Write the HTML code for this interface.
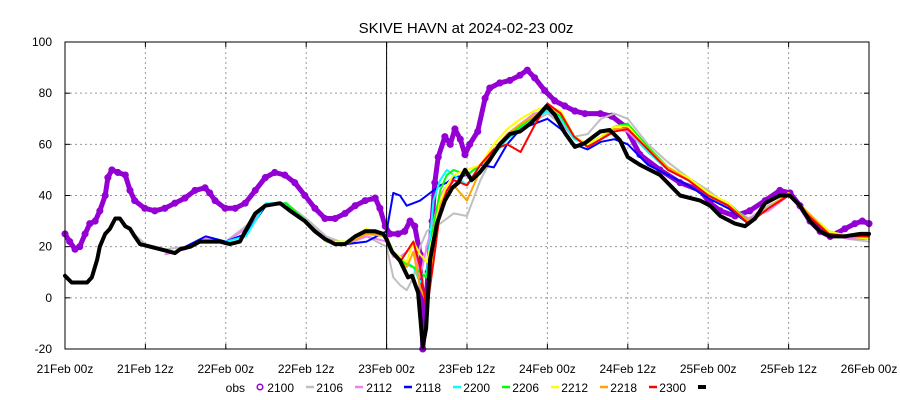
<!DOCTYPE html>
<html><head><meta charset="utf-8">
<style>
body{margin:0;background:#fff;}
svg{display:block;font-family:"Liberation Sans",sans-serif;}
</style></head>
<body>
<svg id="chart" width="900" height="400" viewBox="0 0 900 400" xmlns="http://www.w3.org/2000/svg">
<rect width="900" height="400" fill="#fff"/>
<text x="466" y="33" font-size="15" text-anchor="middle">SKIVE HAVN at 2024-02-23 00z</text>
<g id="grid"></g><g id="series"></g><g id="axes"></g><g id="legend"></g>
</svg>
<script>
const xTickLabels=["21Feb 00z","21Feb 12z","22Feb 00z","22Feb 12z","23Feb 00z","23Feb 12z","24Feb 00z","24Feb 12z","25Feb 00z","25Feb 12z","26Feb 00z"];
const yTicks=[-20,0,20,40,60,80,100];
const grid=[48,49,50,51,52,53,54,55,56,57,58,60,62,64,66,68,70,72,74,76,78,80,82,84,87,90,93,96,99,102,105,108,111,114,117,120];
const greyPreH=[9,12,15,18,21,24,27,30,33,36,39,42,45];
const greyPre=[28,21,19,20,23,22,28,36,37,31,24,21,24];
const greyPost=[20,8,5,3,8,20,26,28,29,31,33,32,46,56,62,66,69,72,68,63,64,70,72,70,60,53,47,42,36,31,36,40,32,25,23,22];
const violetPreH=[15,18,21,24,27,30,33,36,39,42,45];
const violetPre=[17,19,23,22,27,36,37,30,23,21,24];
const violetPost=[22,16,16,18,22,8,20,30,40,44,47,48,52,58,64,68,72,73,69,62,60,63,66,65,57,50,46,40,36,31,34,40,33,25,23,23];
const bluePreH=[18,21,24,27,30,33,36,39,42,45];
const bluePre=[20,24,22,25,36,37,29,22,21,22];
const bluePost=[26,41,40,36,37,38,40,42,44,45,47,48,52,51,60,66,68,70,66,60,58,61,62,60,52,48,44,39,35,29,35,41,32,25,24,23];
const cyanPreH=[24,27,30,33,36,39,42,45];
const cyanPre=[22,24,37,37,30,22,21,26];
const cyanPost=[24,18,16,14,12,6,10,38,46,50,48,44,50,56,62,66,70,73,70,62,60,63,66,66,57,50,46,40,37,30,35,41,33,26,24,24];
const greenPreH=[30,33,36,39,42,45];
const greenPre=[36,37,30,22,22,26];
const greenPost=[24,18,15,13,12,10,8,28,42,48,50,48,52,58,63,67,71,74,71,63,60,63,67,68,59,51,47,41,37,30,35,41,33,26,24,24];
const yellowPreH=[36,39,42,45];
const yellowPre=[30,22,22,27];
const yellowPost=[24,18,16,14,22,17,14,25,38,44,48,50,52,60,66,70,73,75,73,63,60,63,67,67,58,51,47,41,37,29,35,41,33,26,24,23];
const orangePreH=[42,45];
const orangePre=[21,25];
const orangePost=[24,17,14,12,18,4,-2,20,36,42,44,38,50,58,64,68,71,75,72,63,59,62,66,66,58,51,46,40,36,30,35,41,33,25,24,24];
const redPost=[24,17,14,18,22,12,-5,14,34,42,46,44,52,58,60,57,67,76,72,63,59,62,65,66,58,50,46,40,36,29,35,40,32,25,24,24];
const blackH=[0,1,3.3,4,4.8,5.2,6,6.7,7.5,8.2,9,9.7,10.4,11.2,12.7,14.2,15.7,16.4,17.2,18.7,20.1,23.1,24.6,26.1,26.9,28.4,29.9,32.1,33.6,35.8,37.3,38.8,40.3,41.8,43.3,44.8,46.3,47.5,47.9,48.8,50,51.2,51.8,52.7,53,53.4,53.9,54.5,55.5,56.7,57.8,58.7,59.7,60.7,61.9,63.4,64.9,66.4,67.9,69.4,70.9,71.9,73.1,74.6,76.1,77.6,79.9,81.3,82.8,84,85.8,88.8,91.8,94.8,96.3,97.8,100,101.5,103,104.5,106.7,108.2,109.7,111.2,112.7,114.2,116.4,118.7,120];
const blackV=[8.6,6,6,8,15,20,25,27,31,31,28,27,24,21,20,19,18,17.5,19,20,22,22,21,22,26,33,36,37,34,30,26,23,21,21,24,26,26,25,23.4,18,14.5,8,8.6,2,-7,-19,-12,15,29,38,43,45,50,46,49,54,60,64,65,68,72,75,71.5,64.5,59,60.5,65,65.6,61.7,55,52,48,40,38,36,32,29,28,31,37,40,40,36,30,26,24,24,25,25];
const obsH=[0,0.7,1.5,2.2,3,3.7,4.5,5.2,6,6.4,7,7.9,9,9.7,10.4,11.9,13.4,14.9,16.4,17.9,19.4,20.9,21.6,22.4,23.9,25.4,26.9,28.4,29.9,31.3,32.8,34.3,35.8,37.3,38.8,40.3,41.8,43.3,44.8,46.3,47,47.8,48.5,49.7,50.7,51.5,52.2,53,53.4,54.2,54.8,55.2,55.7,56.7,57.5,58.2,59,59.7,60.4,61.6,62.7,63.4,64.9,66.4,67.9,69,70.1,71.6,73.1,74.6,76.1,77.6,79.9,81.6,83.6,85.8,88.8,91.8,94.8,96.3,97.8,100,102.2,104.5,106.7,108.2,109.7,111.2,112.7,114.2,116.4,117.9,119,120];
const obsV=[25,22,19,20,25,29,30,34,40,47,50,49,48,42,38,35,34,35,37,39,42,43,41,38,35,35,37,42,47,49,48,45,40,35,31,31,33,36,38,39,35,28,25,25,26,30,28,17,-20,10,30,45,55,63,60,66,62,56,60,65,78,82,84,85,87,89,86,81,77,75,73,72,72,71,67,56,50,45,42,37,34,32,34,38,42,41,36,30,26,24,27,29,30,29];
const legendLabels=["obs","2100","2106","2112","2118","2200","2206","2212","2218","2300"];

const X0=65,X1=869,Y0=349,Y1=42;
const xs=h=>X0+(h/120)*(X1-X0);
const ys=v=>Y0-((v+20)/120)*(Y0-Y1);
const NS="http://www.w3.org/2000/svg";
function mk(tag,attrs,parent){const e=document.createElementNS(NS,tag);for(const k in attrs)e.setAttribute(k,attrs[k]);parent.appendChild(e);return e;}
const G=document.getElementById('grid'),S=document.getElementById('series'),A=document.getElementById('axes'),L=document.getElementById('legend');
xTickLabels.forEach((t,i)=>{const x=xs(i*12);
 if(i>0&&i<10){const l=mk('line',{x1:x,x2:x,y1:Y1,y2:Y0,stroke:'#999','stroke-dasharray':'2,3'},G);
 
 }
 const tx=mk('text',{x:x,y:373,'font-size':12,'text-anchor':'middle'},A);tx.textContent=t;
 
 
 mk('line',{x1:x,x2:x,y1:Y0,y2:Y0-5,stroke:'#000'},A);mk('line',{x1:x,x2:x,y1:Y1,y2:Y1+5,stroke:'#000'},A);
});
yTicks.forEach(v=>{const y=ys(v);
 if(v>-20&&v<100){const l=mk('line',{x1:X0,x2:X1,y1:y,y2:y,stroke:'#999','stroke-dasharray':'2,3'},G);
 
 }
 const tx=mk('text',{x:52,y:y+4,'font-size':12,'text-anchor':'end'},A);tx.textContent=v;
 
 
 mk('line',{x1:X0,x2:X0+5,y1:y,y2:y,stroke:'#000'},A);mk('line',{x1:X1,x2:X1-5,y1:y,y2:y,stroke:'#000'},A);
});
const frame=mk('rect',{x:X0,y:Y1,width:X1-X0,height:Y0-Y1,fill:'none',stroke:'#000'},A);


const vl=mk('line',{x1:xs(48),x2:xs(48),y1:Y1,y2:Y0,stroke:'#000'},A);



function line(hs,vs,color,w,name){
 const d=hs.map((h,i)=>(i?'L':'M')+xs(h).toFixed(1)+','+ys(vs[i]).toFixed(1)).join('');
 const p=mk('path',{d:d,fill:'none',stroke:color,'stroke-width':w,'stroke-linejoin':'round','stroke-linecap':'round'},S);
 
 
}
// obs band + markers
line(obsH,obsV,'#9400d3',5,'obs-band');
obsH.forEach((h,i)=>{const c=mk('circle',{cx:xs(h),cy:ys(obsV[i]),r:2.8,fill:'none',stroke:'#9400d3','stroke-width':1.5},S);
 
 });
line(greyPreH.concat(grid),greyPre.concat(greyPost),'#c0c0c0',2,'series-2100');
line(violetPreH.concat(grid),violetPre.concat(violetPost),'#ee82ee',2,'series-2106');
line(bluePreH.concat(grid),bluePre.concat(bluePost),'#0000ff',2,'series-2112');
line(cyanPreH.concat(grid),cyanPre.concat(cyanPost),'#00ffff',2,'series-2118');
line(greenPreH.concat(grid),greenPre.concat(greenPost),'#00ff00',2,'series-2200');
line(yellowPreH.concat(grid),yellowPre.concat(yellowPost),'#ffff00',2,'series-2206');
line(orangePreH.concat(grid),orangePre.concat(orangePost),'#ffa500',2,'series-2212');
line(grid,redPost,'#ff0000',2,'series-2218');
line(blackH,blackV,'#000000',4,'series-2300');

// legend
const legColors=['#9400d3','#c0c0c0','#ee82ee','#0000ff','#00ffff','#00ff00','#ffff00','#ffa500','#ff0000','#000000'];
legendLabels.forEach((t,i)=>{const x=245+i*49;
 const tx=mk('text',{x:x,y:392,'font-size':12,'text-anchor':'end'},L);tx.textContent=t;
 
 
 if(i===0){const c=mk('circle',{cx:x+15,cy:387,r:2.8,fill:'none',stroke:legColors[i],'stroke-width':1.5},L);
  
  }
 else{const l=mk('line',{x1:x+12,x2:x+20,y1:387,y2:387,stroke:legColors[i],'stroke-width':i===9?4:2.5},L);
  
  }
});
</script>
</body></html>
